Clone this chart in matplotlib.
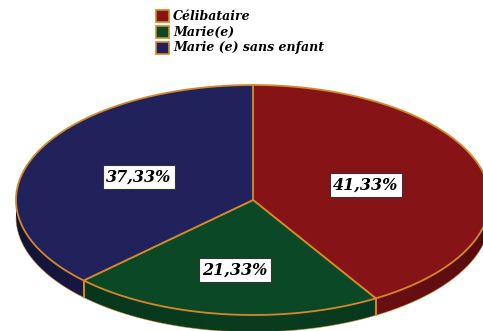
import numpy as np
import matplotlib
matplotlib.use("Agg")
import matplotlib.pyplot as plt
from matplotlib.patches import Polygon, Rectangle

categories = ["Célibataire", "Marie(e)", "Marie (e) sans enfant"]
values = [41.33, 21.33, 37.33]
labels = ["41,33%", "21,33%", "37,33%"]
colors = ["#861417", "#0b4826", "#21215c"]
side_colors = ["#6e1013", "#093b1f", "#1a1a4a"]
edge = "#d4882a"

W, H = 483, 331
fig = plt.figure(figsize=(W / 100, H / 100), dpi=100)
ax = fig.add_axes([0, 0, 1, 1])
ax.set_xlim(0, W)
ax.set_ylim(H, 0)
ax.axis("off")

cx, cy, rx, ry, depth = 253, 200, 237, 115, 17


def pt(theta_deg):
    t = np.radians(theta_deg)
    return cx + rx * np.cos(t), cy - ry * np.sin(t)


# slice angles, clockwise from 12 o'clock
total = sum(values)
starts, ends = [], []
a = 90.0
for v in values:
    starts.append(a)
    a -= v / total * 360.0
    ends.append(a)

# side walls (only the front half, angles between -180 and 0)
for s, e, c in zip(starts, ends, side_colors):
    lo, hi = max(e, -180.0), min(s, 0.0)
    if lo >= hi:
        continue
    th = np.linspace(hi, lo, 80)
    xs, ys = pt(th)
    poly = np.column_stack([np.concatenate([xs, xs[::-1]]),
                            np.concatenate([ys, ys[::-1] + depth])])
    ax.add_patch(Polygon(poly, closed=True, facecolor=c, edgecolor="none", zorder=1))
    # darker shading toward the outer ends of the wall
    for k in range(len(th) - 1):
        f = abs(np.cos(np.radians((th[k] + th[k + 1]) / 2)))
        x0, y0 = xs[k], ys[k]
        x1, y1 = xs[k + 1], ys[k + 1]
        quad = [(x0, y0), (x1, y1), (x1, y1 + depth), (x0, y0 + depth)]
        ax.add_patch(Polygon(quad, closed=True, facecolor="black",
                             alpha=0.25 * f ** 3, edgecolor="none", zorder=1.5))
    for ang in (s, e):
        if -180.0 < ang < 0.0:
            x, y = pt(ang)
            ax.plot([x, x], [y, y + depth], color=edge, lw=1.2, zorder=2)

# bottom rim line
th = np.linspace(-180, 0, 200)
xs, ys = pt(th)
ax.plot(xs, ys + depth, color=edge, lw=0.6, alpha=0.6, zorder=2)

# top faces
for s, e, c in zip(starts, ends, colors):
    th = np.linspace(s, e, 200)
    xs, ys = pt(th)
    poly = np.column_stack([np.concatenate([[cx], xs]), np.concatenate([[cy], ys])])
    ax.add_patch(Polygon(poly, closed=True, facecolor=c, edgecolor=edge,
                         lw=1.3, joinstyle="round", zorder=3))

# value labels
label_pos = [(366, 185), (235, 270), (139, 177)]
for (x, y), t in zip(label_pos, labels):
    ax.text(x, y, t, ha="center", va="center", fontsize=11.5,
            family="DejaVu Serif", weight="bold", style="italic", color="black",
            bbox=dict(boxstyle="square,pad=0.22", facecolor="white",
                      edgecolor="#333333", lw=0.8), zorder=5)

# legend
for i, (cat, c) in enumerate(zip(categories, colors)):
    y = 16 + i * 16
    ax.add_patch(Rectangle((156, y - 6), 13, 12, facecolor=c, edgecolor=edge,
                           lw=1.2, zorder=5))
    ax.text(173, y, cat, ha="left", va="center", fontsize=9,
            family="DejaVu Serif", weight="bold", style="italic",
            color="black", zorder=5)

fig.savefig("out.png", dpi=100)
